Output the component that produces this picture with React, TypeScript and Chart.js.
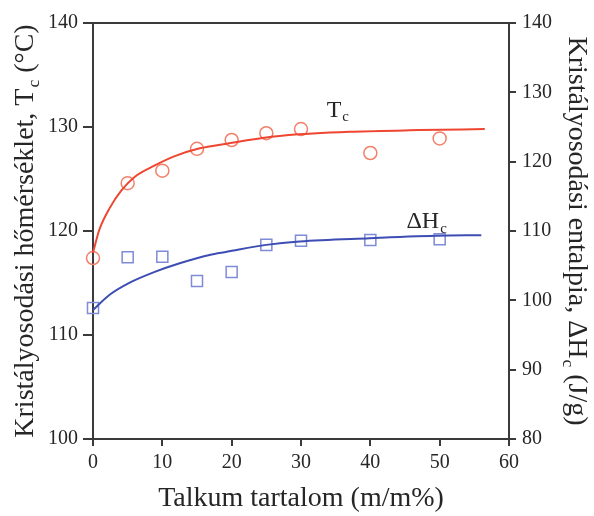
import React, { useEffect, useRef } from "react";
import { Chart, registerables } from "chart.js";

Chart.register(...registerables);

// Measured points
const contentX = [0, 5, 10, 15, 20, 25, 30, 40, 50];
const tcPoints = [117.4, 124.6, 125.8, 127.9, 128.75, 129.4, 129.8, 127.5, 128.9];
const dhPoints = [98.9, 106.2, 106.3, 102.8, 104.1, 108.0, 108.6, 108.7, 108.8];

// Fitted curves
const tcFitX = [0, 0.9, 2.4, 4.1, 6, 8.9, 11.8, 15.4, 19.3, 23, 27.9, 37.5, 47.1, 56.5];
const tcFitY = [117.9, 120.1, 122.2, 123.9, 125.2, 126.3, 127.2, 127.95, 128.4, 128.8, 129.2, 129.55, 129.7, 129.8];
const dhFitX = [0, 2.4, 5.3, 8.9, 12.5, 16.8, 19.3, 25, 29.8, 39.9, 49.5, 56];
const dhFitY = [98.6, 100.8, 102.55, 104.1, 105.35, 106.55, 107.0, 108.0, 108.5, 108.96, 109.3, 109.4];

// Axis ranges / ticks
const xTicks = [0, 10, 20, 30, 40, 50, 60];
const tcTicks = [100, 110, 120, 130, 140];
const dhTicks = [80, 90, 100, 110, 120, 130, 140];

// Texts
const xTitle = "Talkum tartalom (m/m%)";
const leftTitle = [{ t: "Kristályosodási hőmérséklet, T" }, { t: "c", sub: true }, { t: " (°C)" }];
const rightTitle = [{ t: "Kristályosodási entalpia, ΔH" }, { t: "c", sub: true }, { t: " (J/g)" }];
const tcLabel = [{ t: "T" }, { t: "c", sub: true }];
const dhLabel = [{ t: "ΔH" }, { t: "c", sub: true }];
const tcLabelAt = { x: 33.7, y: 131.0 };
const dhLabelAt = { x: 45.2, y: 110.45 };

const FAMILY = '"Liberation Serif", "Times New Roman", serif';
const TEXT = "#262626";
const AXIS = "#3a3a3a";

type Seg = { t: string; sub?: boolean };

function drawRich(
  ctx: CanvasRenderingContext2D,
  segs: Seg[],
  x: number,
  y: number,
  rot: number,
  size: number,
  align: "center" | "left"
) {
  const subSize = size * 0.62;
  ctx.save();
  ctx.translate(x, y);
  ctx.rotate(rot);
  ctx.fillStyle = TEXT;
  ctx.textBaseline = "alphabetic";
  ctx.textAlign = "left";
  let total = 0;
  const widths: number[] = [];
  for (const s of segs) {
    ctx.font = `${s.sub ? subSize : size}px ${FAMILY}`;
    const w = ctx.measureText(s.t).width + (s.sub ? 1 : 0);
    widths.push(w);
    total += w;
  }
  let cx = align === "center" ? -total / 2 : 0;
  segs.forEach((s, i) => {
    ctx.font = `${s.sub ? subSize : size}px ${FAMILY}`;
    ctx.fillText(s.t, cx + (s.sub ? 1 : 0), s.sub ? size * 0.2 : 0);
    cx += widths[i];
  });
  ctx.restore();
}

const decor = {
  id: "decor",
  afterDraw(chart: any) {
    const { ctx, chartArea, scales } = chart;
    ctx.save();
    ctx.strokeStyle = AXIS;
    ctx.lineWidth = 2;
    ctx.beginPath();
    ctx.moveTo(chartArea.left - 1, chartArea.top);
    ctx.lineTo(chartArea.right + 1, chartArea.top);
    ctx.stroke();
    ctx.restore();

    const midY = (chartArea.top + chartArea.bottom) / 2;
    const midX = (chartArea.left + chartArea.right) / 2;
    drawRich(ctx, leftTitle, 33, midY, -Math.PI / 2, 28, "center");
    drawRich(ctx, rightTitle, 569, midY, Math.PI / 2, 28, "center");
    drawRich(ctx, [{ t: xTitle }], midX, 506, 0, 28, "center");

    drawRich(ctx, tcLabel, scales.x.getPixelForValue(tcLabelAt.x), scales.y.getPixelForValue(tcLabelAt.y), 0, 24, "left");
    drawRich(ctx, dhLabel, scales.x.getPixelForValue(dhLabelAt.x), scales.y1.getPixelForValue(dhLabelAt.y), 0, 24, "left");
  },
};

export default function App() {
  const ref = useRef<HTMLCanvasElement>(null);
  useEffect(() => {
    if (!ref.current) return;
    const toXY = (xs: number[], ys: number[]) => xs.map((x, i) => ({ x, y: ys[i] }));
    const tickFont = { family: FAMILY, size: 20 };
    const chart = new Chart(ref.current, {
      type: "line",
      data: {
        datasets: [
          {
            label: "Tc fit",
            data: toXY(tcFitX, tcFitY),
            yAxisID: "y",
            borderColor: "#ee4630",
            borderWidth: 2,
            pointRadius: 0,
            cubicInterpolationMode: "monotone",
            fill: false,
            clip: false,
          },
          {
            label: "dH fit",
            data: toXY(dhFitX, dhFitY),
            yAxisID: "y1",
            borderColor: "#3d4db3",
            borderWidth: 2,
            pointRadius: 0,
            cubicInterpolationMode: "monotone",
            fill: false,
            clip: false,
          },
          {
            label: "Tc",
            data: toXY(contentX, tcPoints),
            yAxisID: "y",
            showLine: false,
            pointStyle: "circle",
            pointRadius: 6.5,
            pointBorderWidth: 1.5,
            pointBorderColor: "#f2806a",
            pointBackgroundColor: "rgba(0,0,0,0)",
            clip: false,
          },
          {
            label: "dH",
            data: toXY(contentX, dhPoints),
            yAxisID: "y1",
            showLine: false,
            pointStyle: "rect",
            pointRadius: 7.8,
            pointBorderWidth: 1.5,
            pointBorderColor: "#7f8bd6",
            pointBackgroundColor: "rgba(0,0,0,0)",
            clip: false,
          },
        ],
      },
      options: {
        animation: false,
        responsive: false,
        devicePixelRatio: 1,
        layout: { padding: { top: 23, left: 0, right: 0, bottom: 0 } },
        plugins: { legend: { display: false }, tooltip: { enabled: false } },
        scales: {
          x: {
            type: "linear",
            min: 0,
            max: 60,
            afterBuildTicks: (s: any) => { s.ticks = xTicks.map((v) => ({ value: v })); },
            afterFit: (s: any) => { s.height = 77; },
            ticks: { font: tickFont, color: TEXT, padding: 5 },
            grid: { drawOnChartArea: false, tickLength: 7, color: AXIS, lineWidth: 2 },
            border: { color: AXIS, width: 2 },
          },
          y: {
            type: "linear",
            position: "left",
            min: 100,
            max: 140,
            afterBuildTicks: (s: any) => { s.ticks = tcTicks.map((v) => ({ value: v })); },
            afterFit: (s: any) => { s.width = 93; },
            ticks: { font: tickFont, color: TEXT, padding: 5 },
            grid: { drawOnChartArea: false, tickLength: 10, color: AXIS, lineWidth: 2 },
            border: { color: AXIS, width: 2 },
          },
          y1: {
            type: "linear",
            position: "right",
            min: 80,
            max: 140,
            afterBuildTicks: (s: any) => { s.ticks = dhTicks.map((v) => ({ value: v })); },
            afterFit: (s: any) => { s.width = 85; },
            ticks: { font: tickFont, color: TEXT, padding: 6 },
            grid: { drawOnChartArea: false, tickLength: 7, color: AXIS, lineWidth: 2 },
            border: { color: AXIS, width: 2 },
          },
        },
      },
      plugins: [decor],
    } as any);
    return () => chart.destroy();
  }, []);
  return (
    <div style={{ position: "absolute", left: 0, top: 0, width: 594, height: 516, background: "#fff" }}>
      <canvas ref={ref} width={594} height={516} style={{ width: 594, height: 516 }} />
    </div>
  );
}
